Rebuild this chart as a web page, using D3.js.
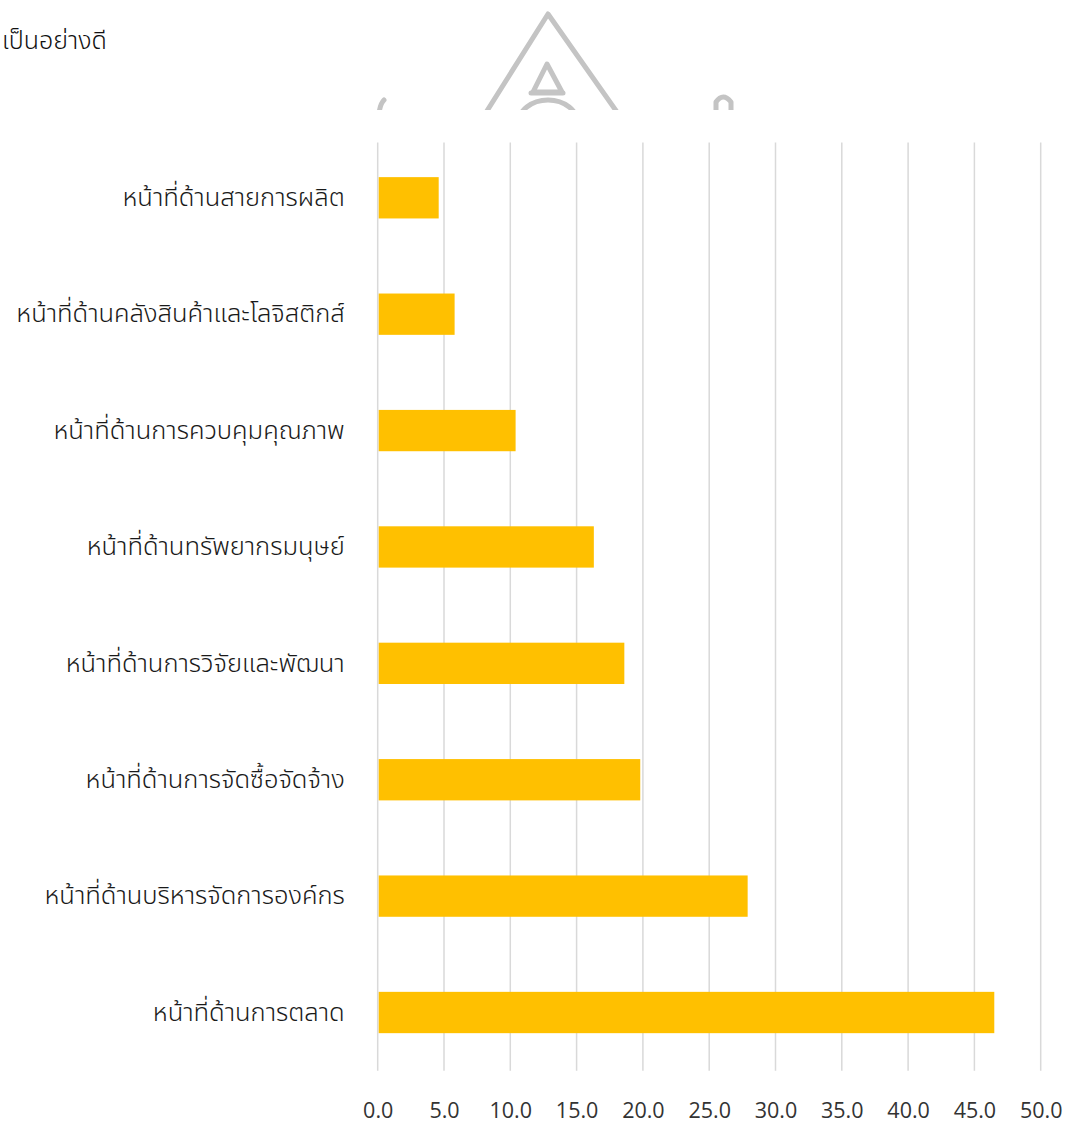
<!DOCTYPE html>
<html>
<head>
<meta charset="utf-8">
<script src="https://cdn.jsdelivr.net/npm/d3@7/dist/d3.min.js"></script>
<style>
  html, body { margin: 0; padding: 0; background: #fff; }
  svg { display: block; }
</style>
</head>
<body>
<svg id="chart" width="1070" height="1129"></svg>
<script>
// Functional areas (top to bottom) and their percentages
const categories = [
  "หน้าที่ด้านสายการผลิต",
  "หน้าที่ด้านคลังสินค้าและโลจิสติกส์",
  "หน้าที่ด้านการควบคุมคุณภาพ",
  "หน้าที่ด้านทรัพยากรมนุษย์",
  "หน้าที่ด้านการวิจัยและพัฒนา",
  "หน้าที่ด้านการจัดซื้อจัดจ้าง",
  "หน้าที่ด้านบริหารจัดการองค์กร",
  "หน้าที่ด้านการตลาด"
];
const values = [4.6, 5.8, 10.4, 16.3, 18.6, 19.8, 27.9, 46.5];
const tickValues = [0, 5, 10, 15, 20, 25, 30, 35, 40, 45, 50];
const introLine = "เป็นอย่างดี";

const svg = d3.select("#chart");
const thaiFont = "'Noto Sans Thai', 'Noto Sans', 'Loma', 'Garuda', sans-serif";
const numFont = "'Open Sans', 'Noto Sans', sans-serif";

// Running document text above the chart
svg.append("text")
  .attr("x", 2).attr("y", 49)
  .attr("font-family", thaiFont)
  .attr("font-size", 25)
  .attr("font-weight", 300)
  .attr("fill", "#111")
  .text(introLine);

// Faint emblem behind the text, cut off where the chart begins
const emblem = svg.append("g")
  .attr("fill", "none")
  .attr("stroke", "#c4c4c4")
  .attr("stroke-width", 5)
  .attr("stroke-linejoin", "round")
  .attr("stroke-linecap", "round");
svg.append("clipPath").attr("id", "emblemClip")
  .append("rect").attr("x", 0).attr("y", 0).attr("width", 1070).attr("height", 110);
emblem.attr("clip-path", "url(#emblemClip)");
emblem.append("path").attr("d", "M 480 122 L 548 14 L 624 122");
emblem.append("path").attr("d", "M 533 92 L 547 64 L 562 92 Z");
emblem.append("path").attr("d", "M 531 93 L 563 93");
emblem.append("path").attr("d", "M 518 124 A 30 24 0 0 1 578 124");
emblem.append("path").attr("d", "M 379 114 Q 380 104 384 100");
emblem.append("path").attr("d", "M 716 114 L 716 102 Q 723 92 731 102 L 731 114");

// Scales
const margin = { left: 377.7, right: 1040.7, top: 139.6, bottom: 1070.7 };
const x = d3.scaleLinear().domain([0, 50]).range([margin.left, margin.right]);
const y = d3.scaleBand()
  .domain(categories)
  .range([margin.top, margin.bottom])
  .paddingInner(0.645)
  .paddingOuter(0.3225);

// Vertical gridlines
svg.append("g")
  .selectAll("line")
  .data(tickValues)
  .join("line")
  .attr("x1", d => x(d)).attr("x2", d => x(d))
  .attr("y1", margin.top + 3).attr("y2", margin.bottom)
  .attr("stroke", "#d9d9d9")
  .attr("stroke-width", 1.5);

// Bars
svg.append("g")
  .selectAll("rect")
  .data(values)
  .join("rect")
  .attr("x", x(0) + 1)
  .attr("y", (d, i) => y(categories[i]))
  .attr("width", d => x(d) - x(0) - 1)
  .attr("height", y.bandwidth())
  .attr("fill", "#ffc000");

// Category axis (labels only)
const yAxis = d3.axisLeft(y).tickSize(0).tickPadding(0);
const gy = svg.append("g")
  .attr("transform", `translate(${margin.left - 33},0)`)
  .call(yAxis);
gy.select(".domain").remove();
gy.selectAll("text")
  .attr("font-family", thaiFont)
  .attr("font-size", 25.5)
  .attr("font-weight", 300)
  .attr("fill", "#1a1a1a");

// Value axis (labels only, below the plot)
const xAxis = d3.axisBottom(x)
  .tickValues(tickValues)
  .tickFormat(d3.format(".1f"))
  .tickSize(0)
  .tickPadding(0);
const gx = svg.append("g")
  .attr("transform", "translate(0,1103)")
  .call(xAxis);
gx.select(".domain").remove();
gx.selectAll("text")
  .attr("font-family", numFont)
  .attr("font-size", 21.5)
  .attr("fill", "#333333")
  .attr("dy", "0.71em");
</script>
</body>
</html>
